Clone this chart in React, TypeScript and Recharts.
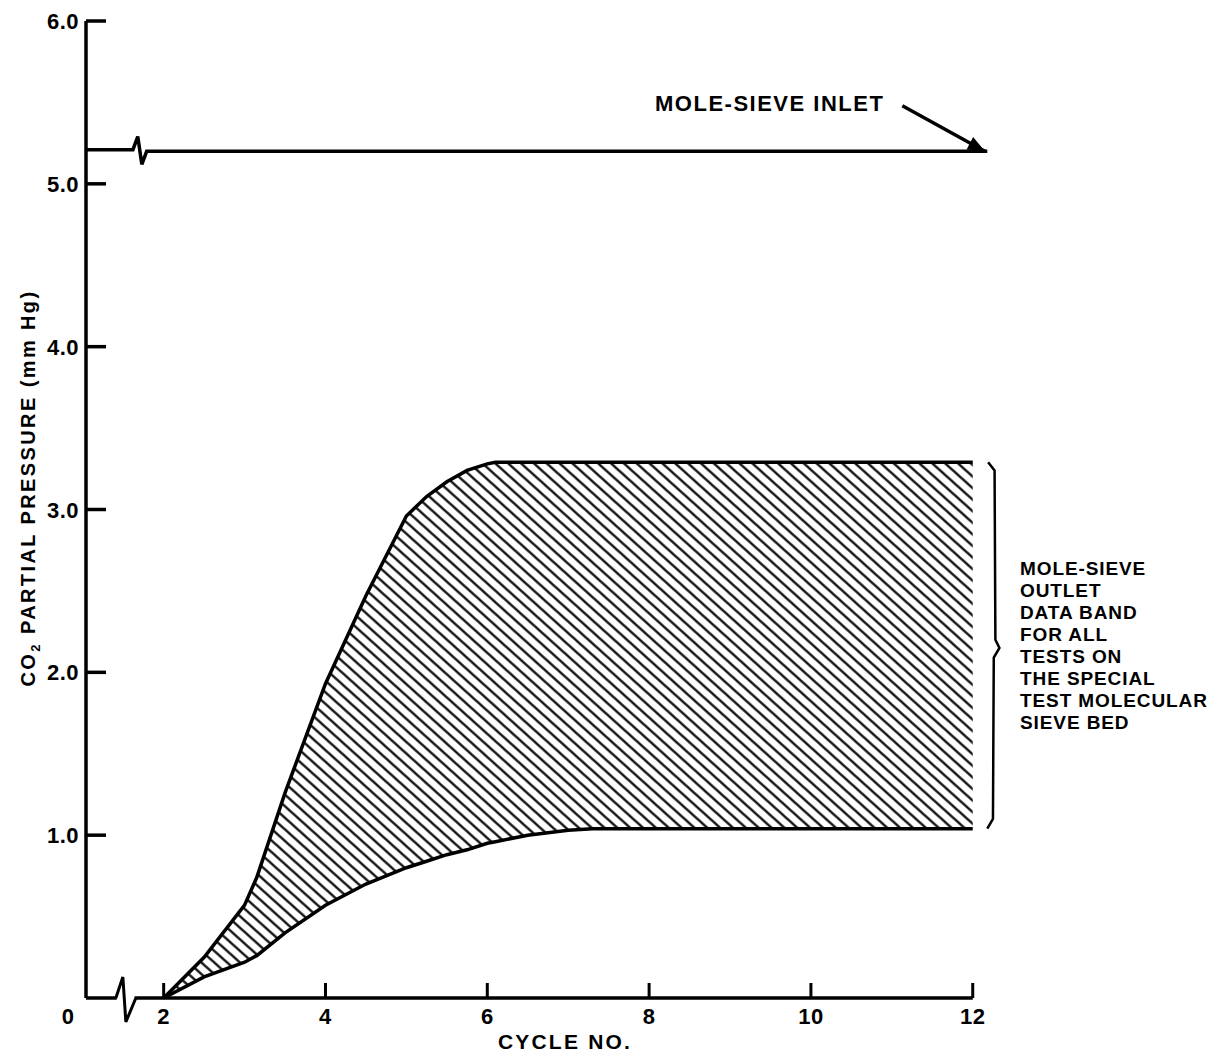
import React from "react";
import { ComposedChart, Area, Line, XAxis, YAxis, ReferenceDot } from "recharts";

// mole-sieve outlet data band (cycle no. vs CO2 partial pressure, mm Hg)
const cycles = [2, 2.5, 3, 3.15, 3.5, 4, 4.5, 5, 5.25, 5.5, 5.75, 6, 6.1, 6.5, 7, 7.3, 12];
const outletUpper = [0, 0.25, 0.57, 0.74, 1.26, 1.93, 2.47, 2.96, 3.08, 3.17, 3.24, 3.28, 3.29, 3.29, 3.29, 3.29, 3.29];
const outletLower = [0, 0.13, 0.22, 0.26, 0.4, 0.57, 0.7, 0.8, 0.84, 0.88, 0.91, 0.95, 0.96, 1.0, 1.03, 1.04, 1.04];

// mole-sieve inlet level, with the break mark drawn into the line
const inletX = [1.04, 1.62, 1.68, 1.73, 1.79, 12.18];
const inletY = [5.21, 5.21, 5.29, 5.12, 5.2, 5.2];

// x axis baseline, split around the axis break
const baseLeftX = [1.04, 1.42];
const baseRightX = [1.64, 12];
const axisBreakAt = 1.545;

// brace next to the band and the arrow to the inlet line
const braceX = [12.19, 12.27, 12.28, 12.33, 12.26, 12.25, 12.18];
const braceY = [3.29, 3.24, 2.2, 2.15, 2.09, 1.1, 1.04];
const arrowX = [11.13, 12.15];
const arrowY = [5.48, 5.2];

const xTicks = [2, 4, 6, 8, 10, 12];
const yTicks = [0, 1, 2, 3, 4, 5, 6];
const outletNote = [
  "MOLE-SIEVE",
  "OUTLET",
  "DATA BAND",
  "FOR ALL",
  "TESTS ON",
  "THE SPECIAL",
  "TEST MOLECULAR",
  "SIEVE BED",
];

const FONT = "'Liberation Sans', Arial, Helvetica, sans-serif";

const bandData = cycles.map((c, i) => ({ x: c, band: [outletLower[i], outletUpper[i]] }));
const inletData = inletX.map((x, i) => ({ x, y: inletY[i] }));
const baseLeft = baseLeftX.map((x) => ({ x, y: 0 }));
const baseRight = baseRightX.map((x) => ({ x, y: 0 }));
const braceData = braceX.map((x, i) => ({ x, y: braceY[i] }));
const arrowData = arrowX.map((x, i) => ({ x, y: arrowY[i] }));

const txt = { fontFamily: FONT, fontWeight: 700, fill: "#000" } as const;

const XTick = (props: any) => {
  const { x, y, payload } = props;
  return (
    <g>
      <line x1={x} x2={x} y1={y} y2={y - 15} stroke="#000" strokeWidth={3} />
      <text x={x} y={y + 26} textAnchor="middle" fontSize={22} letterSpacing={0.5} {...txt}>
        {payload.value}
      </text>
    </g>
  );
};

const YTick = (props: any) => {
  const { x, y, payload } = props;
  const v = payload.value;
  if (v === 0) {
    return (
      <text x={x - 4} y={y + 26} textAnchor="end" fontSize={22} {...txt}>
        0
      </text>
    );
  }
  return (
    <g>
      <line x1={x + 8} x2={x + 28} y1={y} y2={y} stroke="#000" strokeWidth={3.5} />
      <text x={x + 1} y={y + 8} textAnchor="end" fontSize={22} letterSpacing={0.5} {...txt}>
        {v.toFixed(1)}
      </text>
    </g>
  );
};

const AxisBreak = (props: any) => {
  const { cx, cy } = props;
  return (
    <path
      d={`M${cx - 11},${cy} L${cx - 4},${cy - 21} L${cx - 1},${cy + 24} L${cx + 9},${cy}`}
      fill="none"
      stroke="#000"
      strokeWidth={3}
    />
  );
};

const ArrowHead = (props: any) => {
  const { cx, cy } = props;
  return (
    <polygon
      points="0,0 -17,-7 -17,7"
      transform={`translate(${cx},${cy}) rotate(28)`}
      fill="#000"
    />
  );
};

export default function App() {
  return (
    <div style={{ position: "absolute", left: 0, top: 0, width: 1225, height: 1059, background: "#fff", overflow: "hidden" }}>
      <ComposedChart width={1225} height={1059} margin={{ top: 21, right: 50, bottom: 0, left: 0 }}>
        <defs>
          <pattern id="hatch" patternUnits="userSpaceOnUse" width={8.6} height={8.6} patternTransform="rotate(-48)">
            <line x1={4.3} y1={0} x2={4.3} y2={8.6} stroke="#000" strokeWidth={2.2} />
          </pattern>
        </defs>
        <XAxis
          type="number"
          dataKey="x"
          domain={[1.04, 14.5]}
          ticks={xTicks}
          axisLine={false}
          tickLine={false}
          tickSize={0}
          tickMargin={0}
          height={61}
          tick={<XTick />}
          interval={0}
        />
        <YAxis
          type="number"
          domain={[0, 6]}
          ticks={yTicks}
          width={86}
          axisLine={{ stroke: "#000", strokeWidth: 3.5 }}
          tickLine={false}
          tickSize={0}
          tickMargin={8}
          tick={<YTick />}
          interval={0}
        />
        <Area
          data={bandData}
          dataKey="band"
          type="linear"
          fill="url(#hatch)"
          fillOpacity={1}
          stroke="#000"
          strokeWidth={3.5}
          isAnimationActive={false}
        />
        <Line data={baseLeft} dataKey="y" type="linear" stroke="#000" strokeWidth={3.5} dot={false} isAnimationActive={false} />
        <Line data={baseRight} dataKey="y" type="linear" stroke="#000" strokeWidth={3.5} dot={false} isAnimationActive={false} />
        <Line data={inletData} dataKey="y" type="linear" stroke="#000" strokeWidth={3.5} dot={false} isAnimationActive={false} />
        <Line data={braceData} dataKey="y" type="linear" stroke="#000" strokeWidth={2.5} dot={false} isAnimationActive={false} />
        <Line data={arrowData} dataKey="y" type="linear" stroke="#000" strokeWidth={3.5} dot={false} isAnimationActive={false} />
        <ReferenceDot x={axisBreakAt} y={0} shape={<AxisBreak />} />
        <ReferenceDot x={arrowX[1]} y={arrowY[1]} shape={<ArrowHead />} />
        <text x={655} y={111} fontSize={22} letterSpacing={1.5} {...txt}>
          MOLE-SIEVE INLET
        </text>
        {outletNote.map((s, i) => (
          <text key={s} x={1020} y={575 + i * 22} fontSize={19} letterSpacing={0.9} {...txt}>
            {s}
          </text>
        ))}
        <text x={565} y={1049} textAnchor="middle" fontSize={21} letterSpacing={2.2} {...txt}>
          CYCLE NO.
        </text>
        <text
          x={0}
          y={0}
          transform="translate(35,488) rotate(-90)"
          textAnchor="middle"
          fontSize={20}
          letterSpacing={2.4}
          {...txt}
        >
          CO<tspan fontSize={13} dy={5}>2</tspan>
          <tspan dy={-5}> PARTIAL PRESSURE (mm Hg)</tspan>
        </text>
      </ComposedChart>
    </div>
  );
}
